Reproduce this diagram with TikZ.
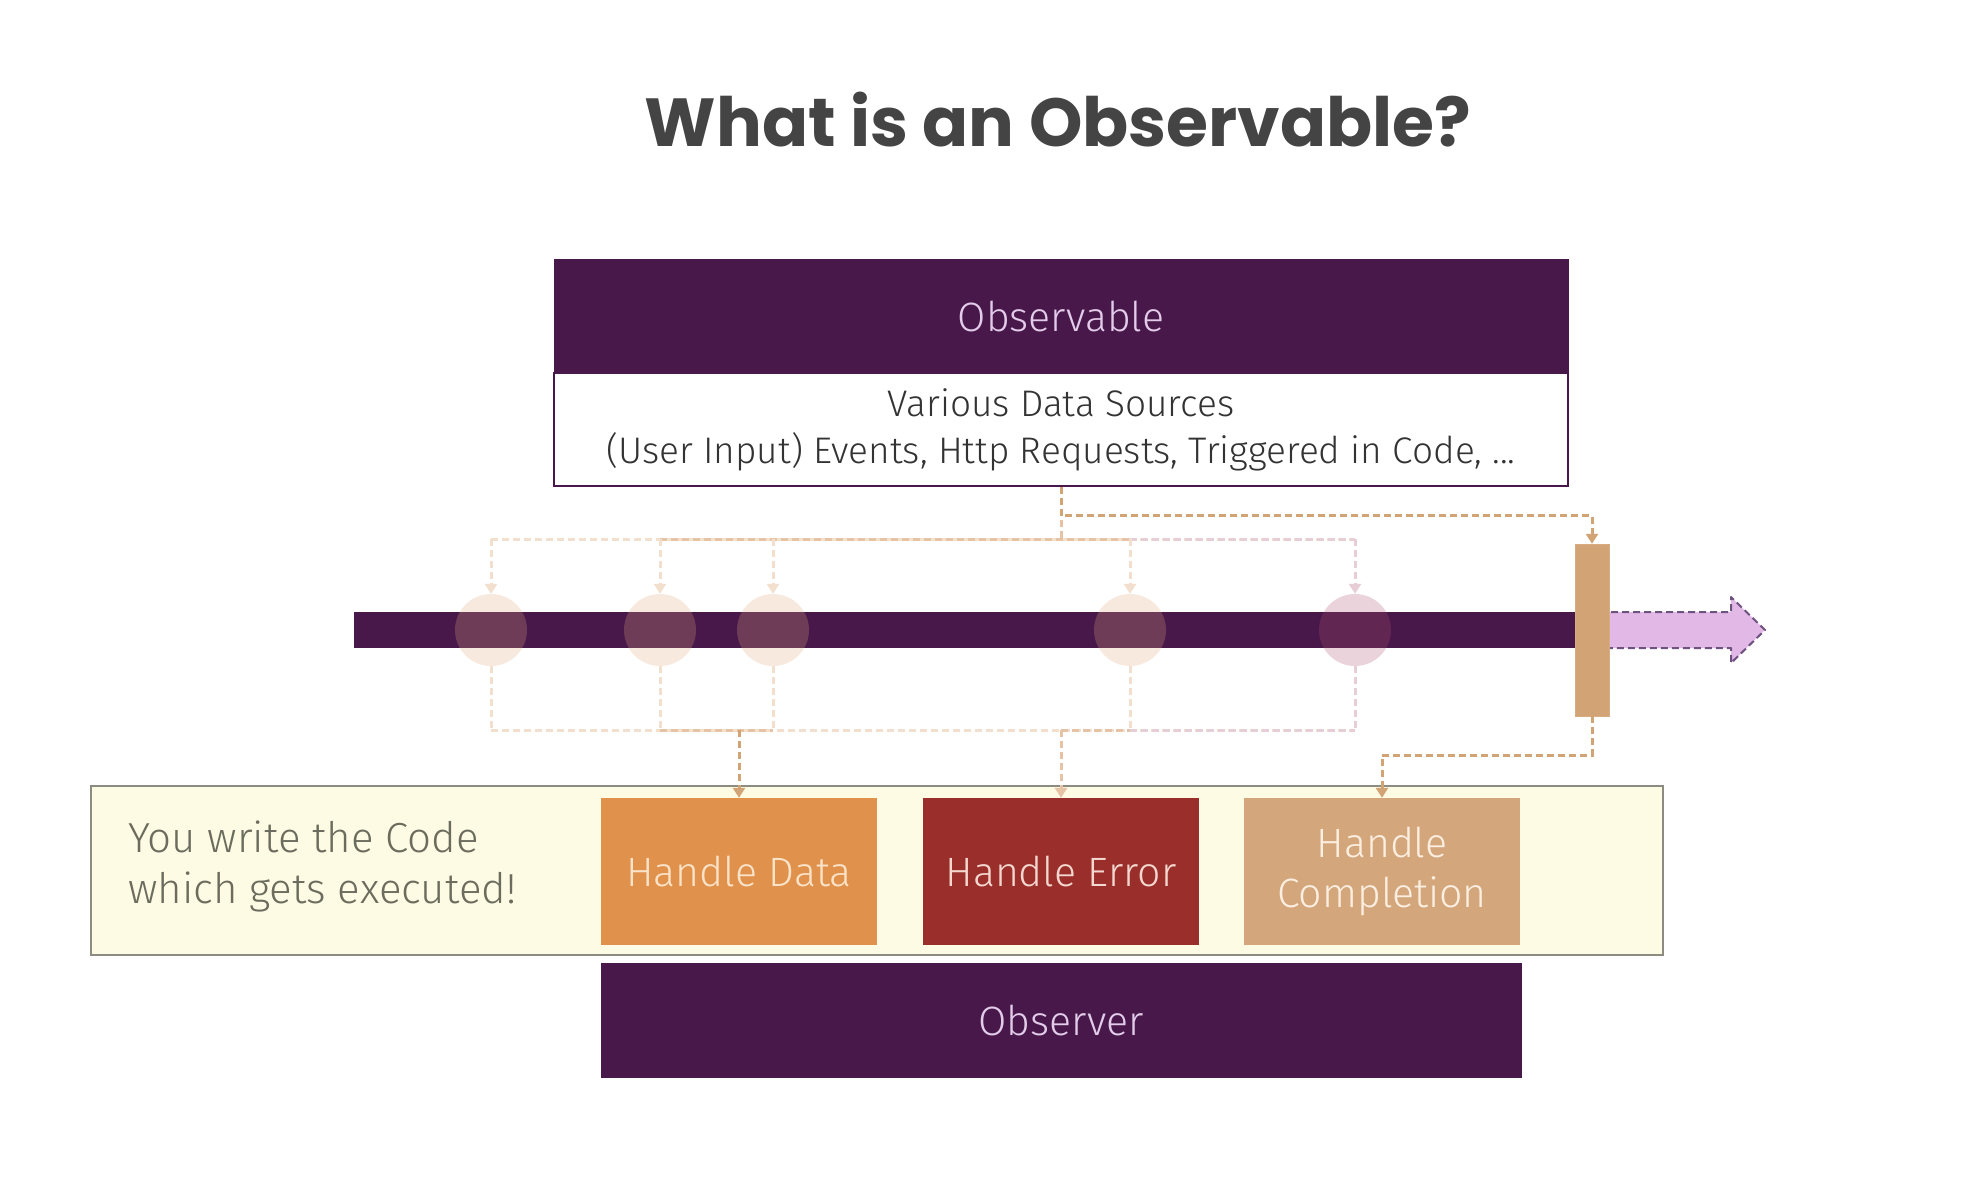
\documentclass[tikz,border=0pt]{standalone}
\usepackage{fontspec}
\setmainfont{Fira Sans}[UprightFont=* Light]
\newfontfamily\titlefont{Poppins}
\usetikzlibrary{arrows.meta}
\definecolor{obspurple}{HTML}{48184A}
\definecolor{lavtext}{HTML}{E3CBEA}
\definecolor{hdfill}{HTML}{E0914B}
\definecolor{hdtext}{HTML}{FBE3C9}
\definecolor{hefill}{HTML}{992E2B}
\definecolor{hetext}{HTML}{F4D7CF}
\definecolor{hcfill}{HTML}{D3A67C}
\definecolor{hctext}{HTML}{FCEFE1}
\definecolor{comptan}{HTML}{D2A374}
\definecolor{pinkarrow}{HTML}{E2B9E6}
\definecolor{pinkborder}{HTML}{6E5280}
\definecolor{peach}{HTML}{E6AA82}
\definecolor{rosy}{HTML}{B05070}
\definecolor{lightline}{HTML}{F3DFCD}
\definecolor{midline}{HTML}{E6C3A4}
\definecolor{pinkline}{HTML}{E6CDD6}
\definecolor{yellowbg}{HTML}{FDFBE3}
\definecolor{yellowborder}{HTML}{8C8C80}
\definecolor{graytext}{HTML}{6C6C5E}
\definecolor{titlegray}{HTML}{444444}
\tikzset{
  purplebox/.style={rectangle, fill=obspurple, draw=obspurple, inner sep=0pt, text=lavtext, font=\fontsize{41}{48}\selectfont},
  handlebox/.style={rectangle, minimum width=276pt, minimum height=147pt, inner sep=0pt, align=center, font=\fontsize{41}{50}\selectfont},
  evcirc/.style={circle, minimum size=72pt, inner sep=0pt, fill=peach, fill opacity=0.25, draw=none},
  conn/.style={dash pattern=on 7pt off 4pt, line width=3pt},
  tip/.style={-{Triangle[width=12pt,length=10pt]}},
}
\begin{document}
\begin{tikzpicture}[x=1pt,y=-1pt]
\fill[white] (0,0) rectangle (1984,1184);
\useasboundingbox (0,0) rectangle (1984,1184);

% title
\node[text=titlegray, font=\titlefont\bfseries\fontsize{68}{76}\selectfont] (title) at (1058,120) {What is an Observable?};

% observable box
\node[purplebox, minimum width=1014pt, minimum height=114pt] (obs) at (1061,316) {Observable};
\node[rectangle, draw=obspurple, line width=1.5pt, fill=white, minimum width=1014pt, minimum height=113pt, inner sep=0pt, align=center, text=black!80, font=\fontsize{37}{47}\selectfont] (src) at (1061,429.5) {Various Data Sources\\(User Input) Events, Http Requests, Triggered in Code, ...};

% timeline
\node[rectangle, fill=obspurple, inner sep=0pt, minimum width=1221pt, minimum height=36pt] (line) at (964.5,630) {};
\coordinate (outtip) at (1765,630);
\draw[fill=pinkarrow, draw=pinkborder, dash pattern=on 7pt off 4pt, line width=2pt, line join=round]
  (1600,612) -- (1731,612) -- (1731,597) -- (outtip) -- (1731,663) -- (1731,648) -- (1600,648);
\node[rectangle, fill=comptan, draw=comptan!90!white, inner sep=0pt, minimum width=34pt, minimum height=172pt] (comp) at (1592,630) {};

% events
\node[evcirc] (c1) at (491,630) {};
\node[evcirc] (c2) at (660,630) {};
\node[evcirc] (c3) at (773,630) {};
\node[evcirc] (c4) at (1130,630) {};
\node[evcirc, fill=rosy] (c5) at (1355,630) {};

% yellow code box and handlers
\node[rectangle, fill=yellowbg, draw=yellowborder, line width=1.5pt, minimum width=1572pt, minimum height=169pt, inner sep=0pt] (code) at (877,870.5) {};
\node[anchor=west, align=left, text=graytext, font=\fontsize{42}{51}\selectfont, inner sep=0pt] (you) at (128,866) {You write the Code\\which gets executed!};
\node[handlebox, fill=hdfill, text=hdtext] (hd) at (739,871.5) {Handle Data};
\node[handlebox, fill=hefill, text=hetext] (he) at (1061,871.5) {Handle Error};
\node[handlebox, fill=hcfill, text=hctext] (hc) at (1382,871.5) {Handle\\Completion};
\node[purplebox, minimum width=920pt, minimum height=114pt] (observer) at (1061,1020) {Observer};

% junction coordinates
\coordinate (tj) at (1061,539);
\coordinate (bj) at (1061,730);

% top connectors
\draw[conn, draw=lightline] (c1 |- tj) -- (c5 |- tj);
\draw[conn, draw=midline] (c2 |- tj) -- (c4 |- tj);
\draw[conn, draw=pinkline] (c4 |- tj) -- (c5 |- tj);
\draw[conn, draw=midline] (src.south) -- (tj);
\draw[conn, tip, draw=lightline] (c1 |- tj) -- (c1.north);
\draw[conn, tip, draw=lightline] (c2 |- tj) -- (c2.north);
\draw[conn, tip, draw=lightline] (c3 |- tj) -- (c3.north);
\draw[conn, tip, draw=lightline] (c4 |- tj) -- (c4.north);
\draw[conn, tip, draw=pinkline] (c5 |- tj) -- (c5.north);
\draw[conn, tip, draw=comptan] (src.south) -- ++(0,29) -| (comp.north);

% bottom connectors
\draw[conn, draw=lightline] (c1.south) -- (c1 |- bj);
\draw[conn, draw=lightline] (c2.south) -- (c2 |- bj);
\draw[conn, draw=lightline] (c3.south) -- (c3 |- bj);
\draw[conn, draw=lightline] (c4.south) -- (c4 |- bj);
\draw[conn, draw=pinkline] (c5.south) -- (c5 |- bj);
\draw[conn, draw=lightline] (c1 |- bj) -- (c5 |- bj);
\draw[conn, draw=midline] (c2 |- bj) -- (c3 |- bj);
\draw[conn, draw=midline] (bj) -- (c4 |- bj);
\draw[conn, draw=pinkline] (c4 |- bj) -- (c5 |- bj);
\draw[conn, tip, draw=comptan] (hd.north |- bj) -- (hd.north);
\draw[conn, tip, draw=midline] (he.north |- bj) -- (he.north);
\draw[conn, tip, draw=comptan] (comp.south) -- ++(0,39) -| (hc.north);
\end{tikzpicture}
\end{document}
